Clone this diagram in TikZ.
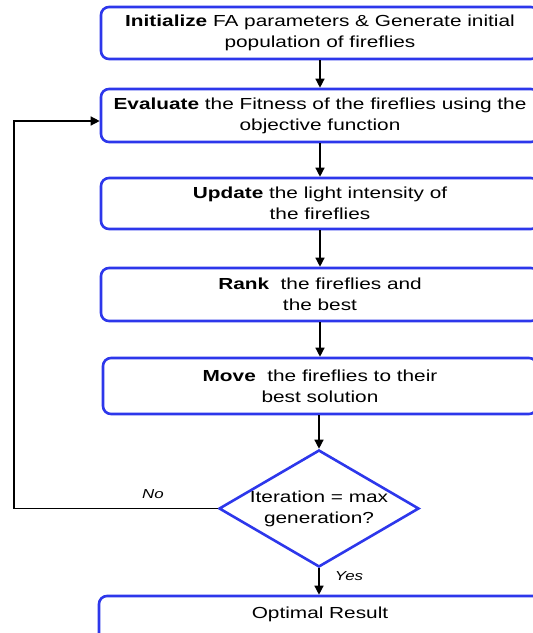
\documentclass[tikz,border=0pt]{standalone}
\usepackage{fontspec}
\setmainfont{Liberation Sans}[FakeStretch=1.3]
\usetikzlibrary{shapes.geometric,arrows.meta}
\definecolor{boxblue}{RGB}{45,55,235}
\tikzset{
  stepbox/.style={draw=boxblue, line width=2.6pt, rounded corners=8pt, minimum width=438pt, inner sep=0pt, align=center, font=\fontsize{16}{21}\selectfont, fill=white},
  conn/.style={draw=black, line width=1.3pt, -{Triangle[length=9pt,width=9pt]}},
  lbl/.style={font=\fontsize{13}{15}\selectfont\itshape, inner sep=1pt}
}
\begin{document}
\begin{tikzpicture}[x=1pt,y=1pt]
\useasboundingbox (0,0) rectangle (533,-633);
\clip (0,0) rectangle (533,-633);
\node[stepbox, minimum height=52pt] (b1) at (320,-33) {\textbf{Initialize} FA parameters \& Generate initial\\population of fireflies};
\node[stepbox, minimum height=53pt] (b2) at (320,-115.5) {\textbf{Evaluate} the Fitness of the fireflies using the\\objective function};
\node[stepbox, minimum height=51pt] (b3) at (320,-203.5) {\textbf{Update} the light intensity of\\the fireflies};
\node[stepbox, minimum height=53pt] (b4) at (320,-294.5) {\textbf{Rank}\ \ the fireflies and\\the best};
\node[stepbox, minimum height=56pt, minimum width=434pt] (b5) at (320,-386) {\textbf{Move}\ \ the fireflies to their\\best solution};
\node[draw=boxblue, line width=2.6pt, diamond, minimum width=200pt, minimum height=117pt, inner sep=0pt] (d) at (319,-508.5) {};
\node[align=center, font=\fontsize{16}{21}\selectfont, inner sep=0pt] (dt) at (d) {Iteration = max\\generation?};
\node[stepbox, minimum height=60pt, minimum width=442pt] (b6) at (320,-626) {};
\node[font=\fontsize{16}{21}\selectfont, inner sep=0pt] (b6t) at (320,-614) {Optimal Result};
\coordinate (c1) at (14,-508.5);
\coordinate (c2) at (14,-121);
\draw[conn] (b1.south) -- (b2.north);
\draw[conn] (b2.south) -- (b3.north);
\draw[conn] (b3.south) -- (b4.north);
\draw[conn] (b4.south) -- (b5.north);
\draw[conn] (d.north |- b5.south) -- (d.north);
\draw[conn] (d.south) -- (d.south |- b6.north);
\draw[conn] (d.west) -- (c1) -- (c2) -- (c2 -| b2.west);
\node[lbl] (no) at (153,-494) {No};
\node[lbl] (yes) at (349,-576) {Yes};
\end{tikzpicture}
\end{document}
